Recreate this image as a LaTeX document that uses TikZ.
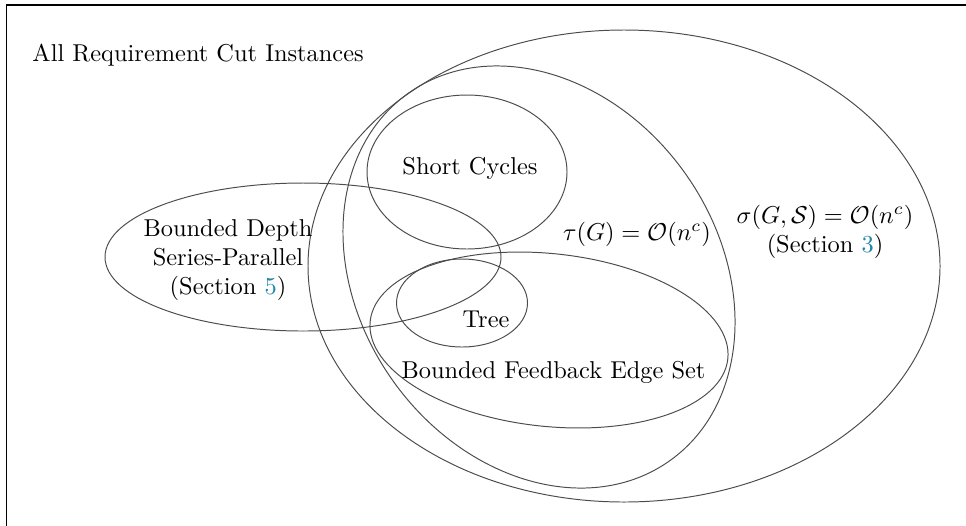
\documentclass[tikz,border=0pt]{standalone}
\definecolor{seccol}{RGB}{30,135,170}
\begin{document}
\begin{tikzpicture}[x=0.41pt,y=-0.41pt,
  setline/.style={draw=black!70, line width=0.4pt},
  lbl/.style={align=center, inner sep=0pt, font=\normalsize}]
\useasboundingbox (0,0) rectangle (966,525);
\draw[line width=0.8pt] (6.5,530) -- (6.5,5) -- (970,5);
% sets
\draw[setline] (624,266) ellipse [x radius=316, y radius=236];
\draw[setline, rotate around={-54.5:(539,277)}] (539,277) ellipse [x radius=225.5, y radius=179.2];
\draw[setline] (467,172) ellipse [x radius=100, y radius=77];
\draw[setline] (303,257) ellipse [x radius=198, y radius=74];
\draw[setline, rotate around={-6:(549,340)}] (549,340) ellipse [x radius=179.8, y radius=86.4];
\draw[setline] (462,303) ellipse [x radius=65.5, y radius=44];
% labels
\node[lbl, anchor=base west] (all) at (32,61) {All Requirement Cut Instances};
\node[lbl, anchor=base] (sc) at (470,174) {Short Cycles};
\node[lbl] (bd) at (228,260) {Bounded Depth\\Series-Parallel\\(Section \textcolor{seccol}{5})};
\node[lbl, anchor=base] (tau) at (637,240) {$\tau(G) = \mathcal{O}(n^c)$};
\node[lbl] (sig) at (825,232) {$\sigma(G,\mathcal{S}) = \mathcal{O}(n^c)$\\(Section \textcolor{seccol}{3})};
\node[lbl, anchor=base] (tree) at (486,327) {Tree};
\node[lbl, anchor=base] (bfes) at (553.5,378) {Bounded Feedback Edge Set};
\end{tikzpicture}
\end{document}
